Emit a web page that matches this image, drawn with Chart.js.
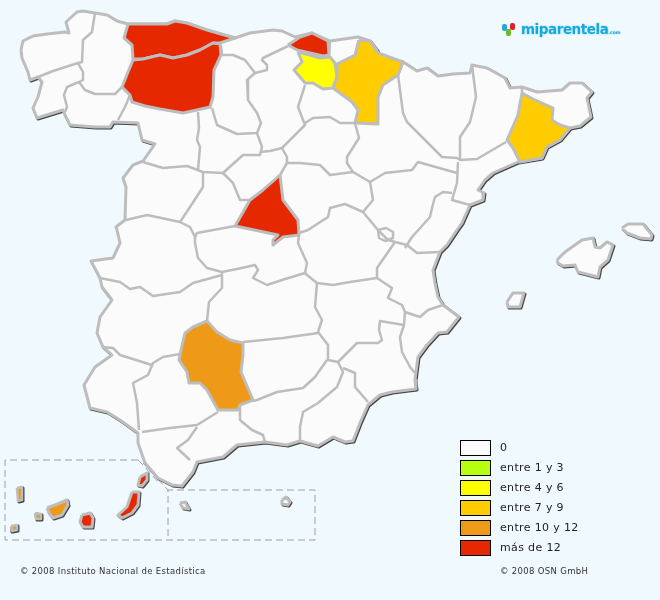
<!DOCTYPE html>
<html lang="es">
<head>
<meta charset="utf-8">
<title>miparentela</title>
<script src="https://cdn.jsdelivr.net/npm/chart.js@4"></script>
<style>
  html, body { margin: 0; padding: 0; background: #f0f9fd; }
  #wrap { position: relative; width: 660px; height: 600px; overflow: hidden; font-family: "DejaVu Sans", sans-serif; }
  canvas { position: absolute; left: 0; top: 0; }
  .box { position: absolute; left: 460px; width: 29px; height: 14px; border: 1px solid #000; }
  .lab { position: absolute; left: 500px; font-size: 11px; line-height: 16px; letter-spacing: .35px; color: #222; white-space: nowrap; }
  .copy { position: absolute; top: 565px; font-size: 8.5px; line-height: 12px; letter-spacing: .33px; color: #333; white-space: nowrap; }
  #logo { position: absolute; left: 521px; top: 21px; font: bold 13.5px "DejaVu Sans", sans-serif; letter-spacing: -.45px; color: #18a8dc; white-space: nowrap;
    text-shadow: 1px 0 #c8eefa, -1px 0 #c8eefa, 0 1px #c8eefa, 0 -1px #c8eefa; }
  #logo small { font-size: 4.5px; letter-spacing: 0; }
  .dot { position: absolute; width: 5px; height: 7px; border-radius: 2px; }
</style>
</head>
<body>
<div id="wrap">
  <canvas id="map" width="660" height="600"></canvas>
  <span class="dot" style="left:502px;top:24px;background:#2aa5d8"></span>
  <span class="dot" style="left:506px;top:29px;background:#6cba2c"></span>
  <span class="dot" style="left:510px;top:23px;background:#e0202a"></span>
  <div id="logo">miparentela<small>.com</small></div>
  <div id="legend"></div>
  <div class="copy" style="left:20px">© 2008 Instituto Nacional de Estadística</div>
  <div class="copy" style="left:500px">© 2008 OSN GmbH</div>
</div>
<script>
// legend
const classLabels = ['0', 'entre 1 y 3', 'entre 4 y 6', 'entre 7 y 9', 'entre 10 y 12', 'más de 12'];
const classColors = ['#fbfbfb', '#b6ff10', '#ffff00', '#ffcc00', '#ee9a18', '#e62800'];

// coast of the peninsula, clockwise from Galicia
const coast = [[21,50],[23,41],[33,36],[47,34],[65,32],[69,33],[66,22],[77,12],[83,11],[95,13],[107,15],[117,21],[128,24],[140,24],[167,24],[175,21],[187,23],[207,30],[235,38],[250,33],[273,30],[282,31],[295,37],[312,33],[330,41],[358,37],[370,41],[377,50],[378,55],[403,62],[417,71],[427,68],[438,76],[453,74],[470,73],[472,65],[487,68],[505,78],[510,88],[522,87],[537,92],[562,90],[570,83],[582,83],[592,92],[587,98],[591,117],[580,126],[570,128],[560,140],[547,147],[542,158],[518,162],[493,173],[485,180],[478,190],[484,193],[483,200],[470,205],[462,223],[457,230],[447,245],[440,252],[433,270],[435,283],[438,297],[443,305],[459,317],[447,332],[438,333],[427,345],[418,357],[415,380],[416,389],[392,392],[380,395],[368,405],[360,423],[353,441],[345,442],[333,437],[318,446],[300,441],[287,445],[265,442],[237,445],[223,457],[197,462],[193,472],[182,486],[172,485],[158,478],[145,463],[138,443],[138,433],[120,420],[107,412],[90,408],[84,385],[95,367],[112,355],[103,347],[97,333],[100,317],[112,300],[102,287],[100,278],[91,261],[113,258],[120,243],[117,230],[116,227],[125,220],[126,187],[123,178],[133,165],[143,161],[155,144],[142,140],[138,123],[113,122],[110,127],[95,127],[70,125],[65,115],[63,110],[37,118],[33,108],[38,97],[42,82],[38,77],[30,80],[28,72],[22,58]];

// islands
const mallorca = [[557,260],[565,252],[582,240],[593,238],[595,247],[600,248],[607,242],[613,245],[608,260],[600,267],[598,277],[578,272],[575,265],[563,266],[558,263]];
const menorca = [[622,228],[628,224],[643,224],[652,235],[651,239],[640,238],[627,233]];
const ibiza = [[507,302],[513,293],[524,293],[520,307],[508,307]];
const ceuta = [[180,503],[185,502],[189,509],[183,508]];
const melilla = [[282,500],[286,497],[290,502],[288,505],[282,504]];
const laPalma = [[17,488],[22,487],[22,500],[18,501]];
const tenerife = [[47,508],[60,503],[67,500],[68,505],[62,515],[53,518],[49,513]];
const gomera = [[35,513],[41,514],[41,519],[36,519]];
const hierro = [[11,526],[17,525],[17,530],[12,531]];
const granCanaria = [[82,515],[90,513],[93,518],[92,527],[83,527],[80,522]];
const fuerteventura = [[132,492],[139,492],[138,505],[132,513],[122,518],[118,515],[127,507]];
const lanzarote = [[140,477],[147,473],[147,480],[142,486],[138,485]];

// shaded provinces
const asturias = [[128,24],[140,24],[167,24],[175,21],[187,23],[207,30],[235,38],[220,43],[213,43],[200,50],[187,55],[173,58],[160,55],[143,59],[133,59],[132,45],[124,38]];
const leon = [[133,60],[143,59],[160,55],[173,58],[187,55],[200,50],[213,43],[220,44],[221,55],[214,70],[213,97],[210,107],[197,110],[183,113],[160,109],[145,106],[132,102],[130,95],[122,87],[128,72]];
const vizcaya = [[288,45],[300,37],[312,33],[328,41],[329,55],[323,56],[310,53],[297,50]];
const alava = [[298,52],[302,62],[294,70],[305,83],[313,83],[323,89],[333,88],[337,77],[335,63],[330,57],[320,58],[310,55]];
const navarra = [[359,40],[370,41],[378,53],[403,62],[398,75],[383,85],[378,97],[378,124],[355,123],[358,110],[352,102],[333,88],[337,77],[337,64],[355,55]];
const barcelona = [[522,93],[533,99],[553,108],[552,120],[560,125],[570,128],[560,140],[547,147],[542,158],[520,162],[513,148],[507,140],[518,115]];
const madrid = [[280,175],[283,200],[298,220],[299,235],[283,237],[273,245],[273,240],[278,235],[235,226],[250,200],[263,190]];
const cordoba = [[207,321],[217,332],[230,340],[243,343],[243,355],[241,372],[253,400],[240,405],[238,410],[218,410],[207,390],[200,383],[189,383],[187,372],[179,360],[181,350],[185,333],[193,327]];

// inner borders
const borders = [
  [[38,77],[53,71],[78,63]],
  [[95,13],[92,32],[83,40],[82,62],[78,63],[83,72],[83,80],[79,82],[85,90],[95,94],[115,94],[122,87]],
  [[79,82],[67,87],[64,95],[67,107],[65,112]],
  [[122,87],[130,95],[125,107],[118,120]],
  [[221,45],[222,55],[233,55],[245,60],[255,73],[247,80],[248,100],[257,113],[261,123],[257,133],[237,134],[217,125],[212,108]],
  [[255,73],[267,70],[267,65],[262,60],[263,58],[288,46]],
  [[257,133],[262,147],[260,155],[243,155],[223,173],[203,172],[187,166],[163,168],[143,162]],
  [[198,112],[199,128],[197,140],[200,147],[198,170]],
  [[203,172],[203,187],[190,207],[180,222],[147,215],[126,220]],
  [[180,222],[190,227],[195,237],[197,233],[235,226]],
  [[223,173],[233,183],[240,200],[250,200]],
  [[260,152],[270,151],[282,148],[287,157],[287,163],[280,175]],
  [[282,148],[295,135],[305,125],[298,107],[305,85]],
  [[305,123],[313,118],[330,117],[340,123],[355,123]],
  [[330,41],[329,55]],
  [[378,55],[403,62],[398,75],[403,113],[407,122],[442,157],[457,158],[460,160]],
  [[472,65],[476,97],[470,122],[460,137],[460,160],[477,159],[506,142]],
  [[522,87],[522,93]],
  [[458,162],[457,183],[452,200],[470,205]],
  [[457,173],[418,162],[412,170],[385,173],[370,182],[353,172],[330,175],[328,173],[320,165],[300,163],[287,163]],
  [[355,123],[359,138],[347,157],[347,163],[353,172]],
  [[370,182],[373,200],[363,212],[378,230],[388,240],[395,242]],
  [[378,230],[386,228],[393,232],[393,238],[385,241],[379,238],[378,230]],
  [[452,193],[443,192],[435,197],[432,208],[430,217],[412,237],[405,248]],
  [[395,242],[407,245],[417,253],[440,252]],
  [[395,242],[377,268],[377,278],[392,288],[388,298],[402,305],[405,312],[420,317],[428,310],[443,305]],
  [[405,312],[404,325],[400,337],[402,352],[410,367],[415,373]],
  [[404,325],[380,321],[379,330],[382,340],[378,343],[357,343],[340,360],[338,362]],
  [[377,278],[350,282],[333,285],[317,283],[307,275],[305,273]],
  [[317,283],[315,307],[322,320],[318,332],[328,345],[328,360],[338,362]],
  [[318,333],[283,338],[243,342]],
  [[327,360],[315,377],[303,388],[277,392],[257,400],[253,401]],
  [[338,362],[343,372],[337,387],[318,403],[303,412],[300,427],[300,441]],
  [[343,368],[355,373],[355,387],[368,402]],
  [[240,405],[240,420],[252,430],[263,435],[265,442]],
  [[218,412],[197,425],[170,428],[142,432]],
  [[180,354],[163,357],[153,363],[148,375],[133,383],[137,403],[139,430]],
  [[103,347],[113,348],[120,355],[152,365]],
  [[197,427],[188,440],[177,448],[190,460]],
  [[207,321],[209,302],[222,288],[222,272]],
  [[100,278],[120,282],[130,289],[140,287],[153,296],[180,292],[193,283],[222,275]],
  [[195,237],[195,243],[198,258],[207,268],[222,272],[237,269],[255,265],[258,270],[253,278],[267,285],[282,280],[305,273]],
  [[299,235],[298,243],[307,263],[305,273]],
  [[299,233],[308,230],[328,217],[330,208],[345,204],[363,212]]
];

// inset frames around Canarias and Ceuta/Melilla
const frames = [
  [[138,460],[5,460],[5,540],[315,540],[315,490],[168,490],[168,540]],
  [[143,463],[168,490]],
  [[138,460],[143,465],[160,484]]
];

const xy = pts => pts.map(([x, y]) => ({ x, y }));
const closed = pts => xy([...pts, pts[0]]);
const nudge = pts => pts.map(([x, y]) => [x + 1, y + 1]);

const GREY = '#bdbdbd';
const SHADOW = '#444444';
const c = classColors;

const poly = (pts, fillColor, width) => ({
  data: closed(pts), showLine: true, pointRadius: 0, tension: 0,
  borderColor: GREY, borderWidth: width || 3, backgroundColor: fillColor,
  fill: 'shape', borderJoinStyle: 'round'
});
const shade = pts => ({
  data: closed(nudge(pts)), showLine: true, pointRadius: 0, tension: 0,
  borderColor: SHADOW, borderWidth: 3, fill: false, borderJoinStyle: 'round'
});
const line = (pts, color, width, dash) => ({
  data: xy(pts), showLine: true, pointRadius: 0, tension: 0,
  borderColor: color, borderWidth: width, borderDash: dash || [], fill: false, borderJoinStyle: 'round'
});

const islands = [
  [mallorca, c[0]], [menorca, c[0]], [ibiza, c[0]], [ceuta, c[0]], [melilla, c[0]],
  [laPalma, c[4], 2.5], [tenerife, c[4]], [gomera, c[4], 2.5], [hierro, c[4], 2.5],
  [granCanaria, c[5]], [fuerteventura, c[5]], [lanzarote, c[5]]
];
const shaded = [
  [asturias, c[5]], [leon, c[5]], [vizcaya, c[5]], [madrid, c[5]],
  [alava, c[2]], [navarra, c[3]], [barcelona, c[3]], [cordoba, c[4]]
];

const datasets = [
  ...frames.map(f => line(f, '#a0a0a0', 1, [7, 4])),
  shade(coast),
  ...islands.map(i => shade(i[0])),
  poly(coast, c[0]),
  ...islands.map(i => poly(i[0], i[1], i[2] || 3)),
  ...borders.map(b => line(b, GREY, 2.5)),
  ...shaded.map(s => poly(s[0], s[1]))
];
// first in the list is painted first
datasets.forEach((d, i) => { d.order = datasets.length - i; });

new Chart(document.getElementById('map'), {
  type: 'scatter',
  data: { datasets },
  options: {
    responsive: false,
    animation: false,
    devicePixelRatio: 1,
    layout: { padding: 0 },
    plugins: { legend: { display: false }, tooltip: { enabled: false } },
    scales: {
      x: { type: 'linear', min: 0, max: 660, display: false },
      y: { type: 'linear', min: 0, max: 600, reverse: true, display: false }
    }
  }
});

const legendEl = document.getElementById('legend');
classLabels.forEach((label, i) => {
  const top = 440 + i * 20;
  legendEl.insertAdjacentHTML('beforeend',
    `<div class="box" style="top:${top}px;background:${classColors[i]}"></div>` +
    `<div class="lab" style="top:${top}px">${label}</div>`);
});
</script>
</body>
</html>
